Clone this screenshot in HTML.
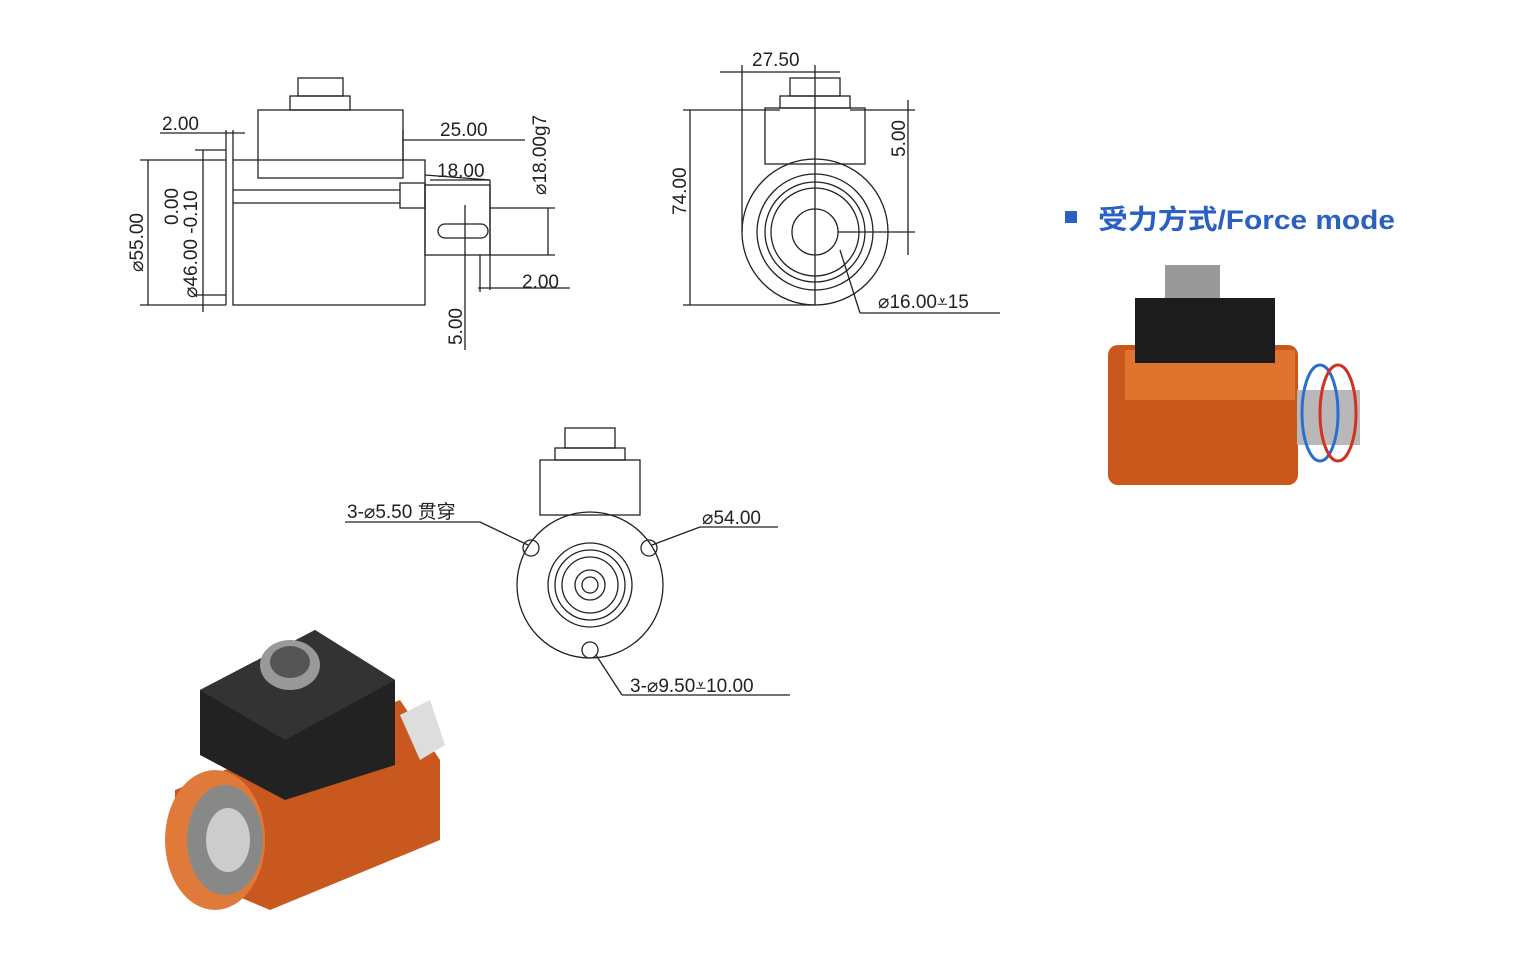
<!DOCTYPE html>
<html><head><meta charset="utf-8"><style>
html,body{margin:0;padding:0;background:#fff;}
svg text{font-family:"Liberation Sans","Noto Sans CJK SC",sans-serif;}
</style></head><body>
<svg width="1520" height="950" viewBox="0 0 1520 950" xmlns="http://www.w3.org/2000/svg">
<rect width="1520" height="950" fill="#fff"/>
<g stroke="#222" stroke-width="1.3" fill="none">
<rect x="233" y="160" width="192" height="145"/>
<rect x="258" y="110" width="145" height="68"/>
<rect x="290" y="96" width="60" height="14"/>
<rect x="298" y="78" width="45" height="18"/>
<line x1="233" y1="190" x2="400" y2="190"/><line x1="233" y1="203" x2="400" y2="203"/>
<rect x="400" y="183" width="25" height="25"/>
<rect x="425" y="185" width="65" height="70"/>
<rect x="438" y="224" width="50" height="14" rx="7"/>
<line x1="226" y1="160" x2="226" y2="305"/>
<line x1="233" y1="130" x2="233" y2="160"/><line x1="226" y1="130" x2="226" y2="160"/>
<line x1="160" y1="133" x2="245" y2="133"/>
<line x1="140" y1="160" x2="226" y2="160"/><line x1="140" y1="305" x2="226" y2="305"/>
<line x1="148" y1="160" x2="148" y2="305"/>
<line x1="195" y1="150" x2="226" y2="150"/><line x1="195" y1="295" x2="226" y2="295"/>
<line x1="203" y1="150" x2="203" y2="312"/>
<line x1="403" y1="140" x2="525" y2="140"/><line x1="403" y1="130" x2="403" y2="160"/>
<line x1="425" y1="175" x2="490" y2="180"/><line x1="430" y1="180" x2="490" y2="180"/>
<line x1="490" y1="180" x2="490" y2="290"/>
<line x1="465" y1="205" x2="465" y2="350"/>
<line x1="490" y1="208" x2="555" y2="208"/><line x1="490" y1="255" x2="555" y2="255"/>
<line x1="548" y1="208" x2="548" y2="255"/>
<line x1="478" y1="288" x2="570" y2="288"/><line x1="480" y1="255" x2="480" y2="292"/>
<circle cx="815" cy="232" r="73"/>
<circle cx="815" cy="232" r="58"/><circle cx="815" cy="232" r="50"/><circle cx="815" cy="232" r="44"/>
<circle cx="815" cy="232" r="23"/>
<rect x="765" y="108" width="100" height="56"/>
<rect x="780" y="96" width="70" height="12"/><rect x="790" y="78" width="50" height="18"/>
<line x1="720" y1="72" x2="840" y2="72"/><line x1="742" y1="65" x2="742" y2="232"/>
<line x1="815" y1="65" x2="815" y2="305"/>
<line x1="683" y1="110" x2="780" y2="110"/><line x1="683" y1="305" x2="815" y2="305"/>
<line x1="690" y1="110" x2="690" y2="305"/>
<line x1="850" y1="110" x2="915" y2="110"/><line x1="838" y1="232" x2="915" y2="232"/>
<line x1="908" y1="100" x2="908" y2="255"/>
<line x1="840" y1="250" x2="860" y2="313"/><line x1="860" y1="313" x2="1000" y2="313"/>
<circle cx="590" cy="585" r="73"/>
<circle cx="590" cy="585" r="42"/><circle cx="590" cy="585" r="35"/><circle cx="590" cy="585" r="28"/>
<circle cx="590" cy="585" r="15"/><circle cx="590" cy="585" r="8"/>
<circle cx="531" cy="548" r="8"/><circle cx="649" cy="548" r="8"/><circle cx="590" cy="650" r="8"/>
<rect x="540" y="460" width="100" height="55"/>
<rect x="555" y="448" width="70" height="12"/><rect x="565" y="428" width="50" height="20"/>
<line x1="345" y1="522" x2="480" y2="522"/><line x1="480" y1="522" x2="528" y2="545"/>
<line x1="700" y1="527" x2="778" y2="527"/><line x1="700" y1="527" x2="652" y2="545"/>
<line x1="596" y1="655" x2="622" y2="695"/><line x1="622" y1="695" x2="790" y2="695"/>
</g>
<g fill="#222" font-size="19">
<text x="162" y="130">2.00</text>
<text x="440" y="136">25.00</text>
<text x="437" y="177">18.00</text>
<text x="522" y="288">2.00</text>
<text transform="translate(143,272) rotate(-90)">⌀55.00</text>
<text transform="translate(178,225) rotate(-90)">0.00</text>
<text transform="translate(197,298) rotate(-90)">⌀46.00 -0.10</text>
<text transform="translate(546,195) rotate(-90)">⌀18.00g7</text>
<text transform="translate(462,345) rotate(-90)">5.00</text>
<text x="752" y="66">27.50</text>
<text transform="translate(686,215) rotate(-90)">74.00</text>
<text transform="translate(905,157) rotate(-90)">5.00</text>
<text x="878" y="308">⌀16.00⩡15</text>
<text x="347" y="518">3-⌀5.50 贯穿</text>
<text x="702" y="524">⌀54.00</text>
<text x="630" y="692">3-⌀9.50⩡10.00</text>
</g>
<rect x="1065" y="211" width="12" height="12" fill="#2a5fc4"/>
<text x="1098" y="229" font-size="27" font-weight="bold" fill="#2a5fc4" textLength="297" lengthAdjust="spacingAndGlyphs">受力方式/Force mode</text>
<rect x="1165" y="265" width="55" height="35" fill="#999"/>
<rect x="1108" y="345" width="190" height="140" rx="10" fill="#c9571c"/>
<rect x="1125" y="350" width="170" height="50" fill="#e0742f"/>
<rect x="1135" y="298" width="140" height="65" fill="#1c1c1c"/>
<rect x="1297" y="390" width="63" height="55" fill="#b8b8b8"/>
<ellipse cx="1320" cy="413" rx="18" ry="48" fill="none" stroke="#2a6fd0" stroke-width="3"/>
<ellipse cx="1338" cy="413" rx="18" ry="48" fill="none" stroke="#d0321f" stroke-width="3"/>
<polygon points="175,790 400,700 440,760 440,840 270,910 175,870" fill="#c9581f"/>
<ellipse cx="215" cy="840" rx="50" ry="70" fill="#e07a3a"/>
<ellipse cx="225" cy="840" rx="38" ry="55" fill="#888"/>
<ellipse cx="228" cy="840" rx="22" ry="32" fill="#ccc"/>
<polygon points="200,690 315,630 395,680 395,765 285,800 200,755" fill="#222"/>
<polygon points="200,690 315,630 395,680 285,740" fill="#333"/>
<ellipse cx="290" cy="665" rx="30" ry="25" fill="#999"/>
<ellipse cx="290" cy="662" rx="20" ry="16" fill="#555"/>
<polygon points="400,715 430,700 445,745 420,760" fill="#ddd"/>
</svg>
</body></html>
